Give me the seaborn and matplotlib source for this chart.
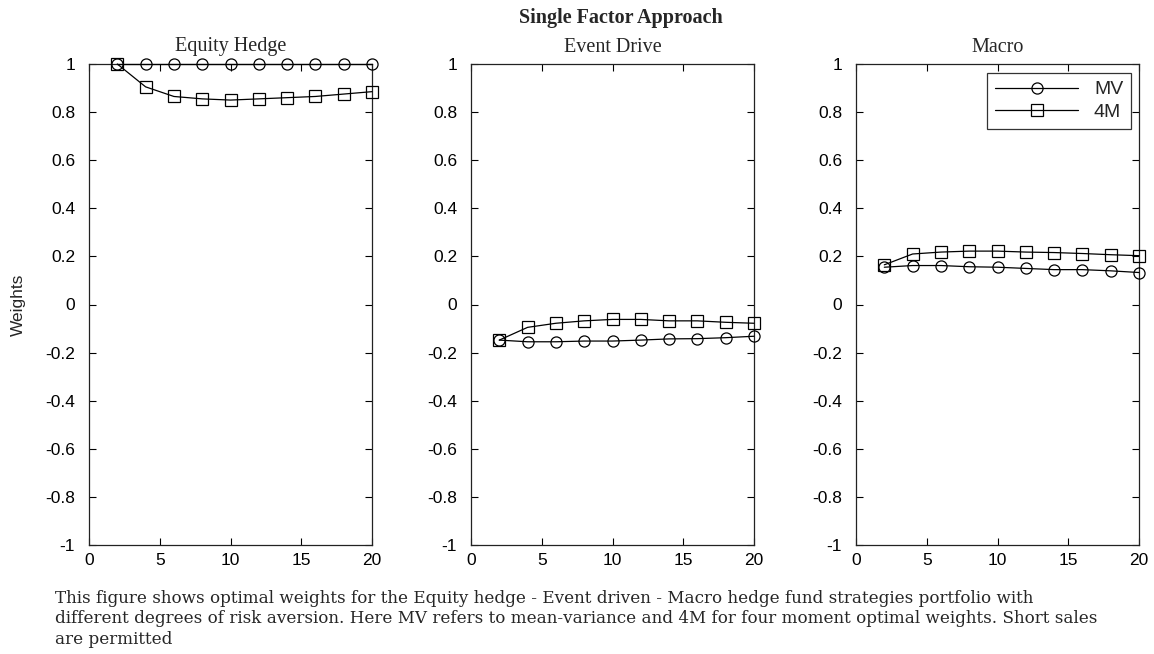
import numpy as np
import pandas as pd
import matplotlib
matplotlib.use("Agg")
import matplotlib.pyplot as plt
import seaborn as sns

# risk aversion levels
risk_aversion = [2, 4, 6, 8, 10, 12, 14, 16, 18, 20]

equity_mv = [1.0, 1.0, 1.0, 1.0, 1.0, 1.0, 1.0, 1.0, 1.0, 1.0]
equity_4m = [1.0, 0.905, 0.865, 0.855, 0.85, 0.855, 0.86, 0.865, 0.875, 0.885]

event_mv = [-0.148, -0.155, -0.155, -0.152, -0.152, -0.148, -0.143, -0.142, -0.138, -0.132]
event_4m = [-0.148, -0.095, -0.078, -0.068, -0.062, -0.062, -0.068, -0.068, -0.074, -0.078]

macro_mv = [0.155, 0.162, 0.162, 0.157, 0.155, 0.15, 0.145, 0.145, 0.14, 0.133]
macro_4m = [0.165, 0.21, 0.218, 0.222, 0.222, 0.218, 0.216, 0.212, 0.207, 0.203]

panel_titles = ["Equity Hedge", "Event Drive", "Macro"]
series_labels = ["MV", "4M"]
y_ticks = [-1, -0.8, -0.6, -0.4, -0.2, 0, 0.2, 0.4, 0.6, 0.8, 1]
y_tick_labels = ["-1", "-0.8", "-0.6", "-0.4", "-0.2", "0", "0.2", "0.4", "0.6", "0.8", "1"]
x_ticks = [0, 5, 10, 15, 20]

caption = ("This figure shows optimal weights for the Equity hedge - Event driven - Macro hedge fund strategies portfolio with\n"
           "different degrees of risk aversion. Here MV refers to mean-variance and 4M for four moment optimal weights. Short sales\n"
           "are permitted")

sns.set_style("ticks")
plt.rcParams["font.family"] = ["Liberation Sans", "DejaVu Sans"]
plt.rcParams["axes.unicode_minus"] = False

serif = ["Liberation Serif", "DejaVu Serif"]

fig = plt.figure(figsize=(11.54, 6.54), dpi=100)

lefts = [89 / 1154, 471 / 1154, 856 / 1154]
width = 283 / 1154
bottom = 109 / 654
height = 481 / 654

panels = [(equity_mv, equity_4m), (event_mv, event_4m), (macro_mv, macro_4m)]

for i, (mv, fm) in enumerate(panels):
    ax = fig.add_axes([lefts[i], bottom, width, height])
    for vals, lab, mk in [(mv, series_labels[0], "o"), (fm, series_labels[1], "s")]:
        sns.lineplot(x=risk_aversion, y=vals, ax=ax, color="black", lw=0.9,
                     marker=mk, markersize=8, markerfacecolor="none",
                     markeredgecolor="black", markeredgewidth=0.9,
                     label=lab, legend=False, clip_on=False, zorder=3)
    ax.set_xlim(0, 20)
    ax.set_ylim(-1, 1)
    ax.set_xticks(x_ticks)
    ax.set_xticklabels([str(v) for v in x_ticks])
    ax.set_yticks(y_ticks)
    ax.set_yticklabels(y_tick_labels)
    ax.tick_params(direction="in", top=True, right=True, length=5, width=0.8,
                   labelsize=12.5, colors="black")
    ax.tick_params(axis="y", pad=10)
    ax.tick_params(axis="x", pad=6)
    for sp in ax.spines.values():
        sp.set_visible(True)
        sp.set_linewidth(0.9)
        sp.set_color("#222222")
    ax.set_title(panel_titles[i], fontsize=14.5, family=serif, pad=9)
    if i == 0:
        ax.set_ylabel("Weights", fontsize=12.5)
        ax.yaxis.set_label_coords(-63 / 283, 0.5)
    if i == 2:
        leg = ax.legend(loc="upper right", fontsize=14, frameon=True, fancybox=False,
                        edgecolor="black", handlelength=4.3, borderpad=0.4,
                        labelspacing=0.25, handletextpad=0.8, borderaxespad=0,
                        bbox_to_anchor=(275 / 283, 472 / 481))
        leg.get_frame().set_linewidth(0.9)

fig.text(0.538, 1 - 18 / 654, "Single Factor Approach", ha="center", va="center",
         fontsize=14.5, fontweight="bold", family=serif)

fig.text(55 / 1154, 1 - 590 / 654, caption, ha="left", va="top", fontsize=12.07,
         family=["DejaVu Serif"], linespacing=1.25)

fig.savefig("out.png", dpi=100)
